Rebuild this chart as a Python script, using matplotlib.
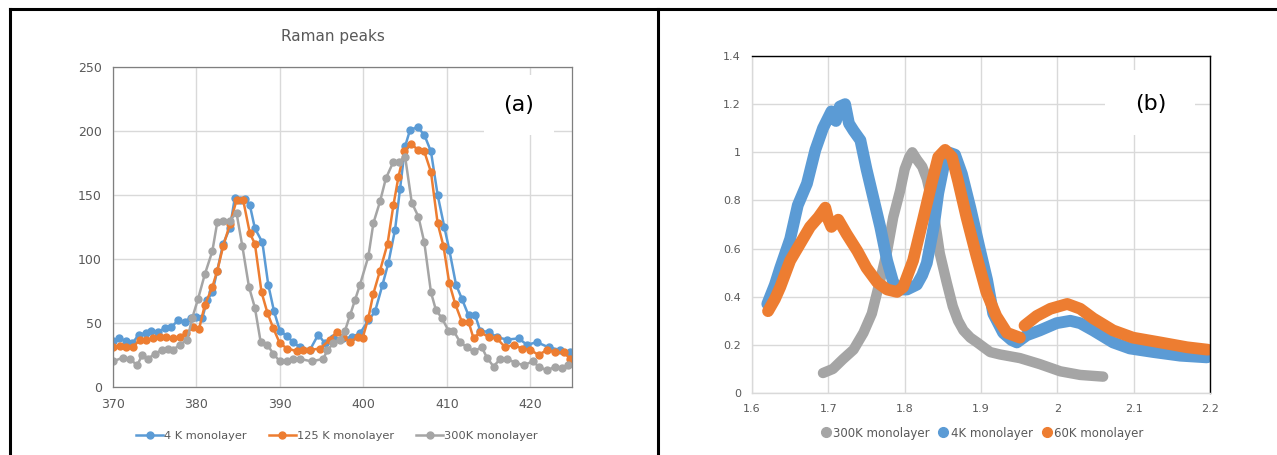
import numpy as np
import matplotlib
matplotlib.use("Agg")
import matplotlib.pyplot as plt
from matplotlib.lines import Line2D
from matplotlib.patches import Rectangle

# ---- panel (a): Raman peaks ----
x_4k = [370.0, 370.7, 371.5, 372.3, 373.1, 373.9, 374.6, 375.4, 376.2, 377.0, 377.8, 378.6, 379.3, 380.0,
        380.7, 381.3, 381.9, 382.5, 383.2, 384.0, 384.6, 385.2, 385.8, 386.4, 387.0, 387.9, 388.6, 389.3,
        390.0, 390.8, 391.6, 392.4, 393.6, 394.6, 395.4, 396.4, 397.6, 398.6, 399.6, 400.6, 401.4, 402.3,
        403.0, 403.8, 404.4, 405.0, 405.6, 406.5, 407.3, 408.1, 408.9, 409.7, 410.3, 411.1, 411.8, 412.6,
        413.4, 414.0, 415.0, 416.0, 417.2, 418.6, 419.6, 420.8, 422.2, 423.6, 424.8]
y_4k = [36, 38, 36, 34, 41, 42, 44, 43, 46, 47, 52, 51, 54, 55,
        54, 68, 74, 91, 112, 124, 148, 146, 147, 142, 124, 113, 80, 59,
        44, 40, 35, 31, 29, 41, 34, 38, 38, 39, 42, 52, 59, 80,
        97, 123, 155, 188, 201, 203, 197, 184, 150, 125, 107, 80, 69, 56,
        56, 44, 43, 39, 37, 38, 33, 35, 31, 29, 27]

x_125k = [370.0, 370.8, 371.6, 372.4, 373.2, 374.0, 374.8, 375.6, 376.4, 377.2, 378.0, 378.8, 379.6, 380.3,
          381.0, 381.9, 382.5, 383.2, 384.0, 384.8, 385.6, 386.4, 387.0, 387.8, 388.5, 389.2, 390.0, 390.9,
          392.0, 392.8, 393.6, 394.8, 396.0, 396.8, 397.6, 398.4, 399.3, 399.9, 400.6, 401.2, 402.0, 402.9,
          403.6, 404.2, 404.9, 405.7, 406.6, 407.3, 408.1, 408.9, 409.6, 410.3, 411.0, 411.8, 412.6, 413.2,
          414.0, 415.0, 416.0, 417.0, 418.0, 419.0, 420.0, 421.0, 422.0, 423.0, 424.0, 424.8]
y_125k = [31, 32, 31, 31, 37, 37, 38, 39, 39, 38, 39, 42, 47, 45,
          64, 78, 91, 110, 127, 146, 146, 120, 112, 74, 58, 46, 34, 30,
          28, 29, 29, 30, 37, 43, 39, 35, 39, 38, 54, 73, 91, 112,
          142, 164, 184, 190, 185, 184, 168, 128, 110, 81, 65, 51, 51, 38,
          43, 39, 38, 31, 33, 30, 29, 25, 29, 27, 27, 22]

x_300k = [370.0, 371.2, 372.0, 372.9, 373.5, 374.2, 375.0, 375.9, 376.6, 377.2, 378.0, 378.9, 379.5, 380.2,
          381.0, 381.9, 382.5, 383.2, 384.0, 384.8, 385.5, 386.3, 387.0, 387.7, 388.5, 389.2, 390.0, 390.8,
          391.6, 392.4, 393.8, 395.2, 395.7, 396.4, 397.2, 397.8, 398.4, 399.0, 399.6, 400.6, 401.2, 402.0,
          402.7, 403.6, 404.3, 405.0, 405.8, 406.6, 407.3, 408.1, 408.7, 409.4, 410.2, 410.8, 411.6, 412.4,
          413.2, 414.2, 414.8, 415.6, 416.4, 417.2, 418.2, 419.2, 420.3, 421.0, 422.0, 423.0, 423.8, 424.5]
y_300k = [20, 23, 22, 17, 25, 22, 26, 29, 30, 29, 33, 37, 54, 69,
          88, 106, 129, 130, 130, 136, 110, 78, 62, 35, 33, 26, 20, 20,
          22, 22, 20, 22, 29, 34, 37, 44, 56, 68, 80, 102, 128, 145,
          163, 176, 176, 180, 144, 133, 113, 74, 60, 54, 44, 44, 35, 31,
          28, 31, 23, 16, 22, 22, 19, 17, 20, 16, 13, 16, 15, 17]

# ---- panel (b): PL spectra ----
x_b300 = [1.693, 1.706, 1.719, 1.733, 1.746, 1.757, 1.768, 1.777, 1.785, 1.794, 1.800, 1.806, 1.810, 1.816,
          1.823, 1.829, 1.834, 1.838, 1.846, 1.855, 1.863, 1.870, 1.877, 1.886, 1.895, 1.912, 1.925, 1.951,
          1.977, 2.004, 2.030, 2.060]
y_b300 = [0.083, 0.10, 0.14, 0.18, 0.25, 0.33, 0.47, 0.59, 0.73, 0.84, 0.93, 0.98, 1.00, 0.97,
          0.94, 0.89, 0.82, 0.75, 0.58, 0.46, 0.36, 0.30, 0.26, 0.23, 0.21, 0.17, 0.16, 0.145,
          0.12, 0.09, 0.075, 0.068]

x_b4 = [1.620, 1.630, 1.637, 1.650, 1.660, 1.672, 1.683, 1.693, 1.704, 1.710, 1.715, 1.722, 1.727, 1.733,
        1.742, 1.750, 1.759, 1.768, 1.777, 1.785, 1.794, 1.803, 1.816, 1.823, 1.829, 1.838, 1.844, 1.851,
        1.857, 1.866, 1.875, 1.886, 1.899, 1.908, 1.916, 1.929, 1.940, 1.947, 1.960, 1.977, 1.999, 2.017,
        2.030, 2.047, 2.073, 2.095, 2.126, 2.161, 2.196]
y_b4 = [0.37, 0.45, 0.52, 0.64, 0.78, 0.87, 1.01, 1.10, 1.17, 1.13, 1.19, 1.20, 1.12, 1.09,
        1.05, 0.93, 0.81, 0.69, 0.55, 0.46, 0.43, 0.43, 0.45, 0.49, 0.54, 0.69, 0.83, 0.94,
        1.00, 0.99, 0.91, 0.77, 0.59, 0.47, 0.33, 0.25, 0.22, 0.21, 0.24, 0.26, 0.29, 0.30,
        0.29, 0.26, 0.21, 0.185, 0.17, 0.155, 0.148]

x_b60 = [1.621, 1.630, 1.637, 1.650, 1.663, 1.676, 1.687, 1.696, 1.700, 1.704, 1.713, 1.724, 1.738, 1.750,
         1.764, 1.777, 1.790, 1.798, 1.811, 1.824, 1.836, 1.844, 1.853, 1.862, 1.870, 1.881, 1.894, 1.907,
         1.920, 1.934, 1.951, np.nan, 1.957, 1.973, 1.991, 2.013, 2.030, 2.047, 2.073, 2.099, 2.135, 2.170,
         2.197]
y_b60 = [0.34, 0.39, 0.44, 0.55, 0.62, 0.69, 0.73, 0.77, 0.72, 0.69, 0.72, 0.66, 0.59, 0.52,
         0.46, 0.43, 0.42, 0.44, 0.55, 0.72, 0.88, 0.98, 1.01, 0.98, 0.88, 0.73, 0.57, 0.42,
         0.32, 0.25, 0.23, np.nan, 0.28, 0.32, 0.35, 0.37, 0.35, 0.31, 0.26, 0.23, 0.21, 0.19,
         0.18]

blue = "#5B9BD5"
orange = "#ED7D31"
gray = "#A5A5A5"
txt = "#595959"
grid_c = "#D9D9D9"

fig = plt.figure(figsize=(12.77, 4.55), dpi=100)
W, H = 1277, 455

# table borders
for xs, ys in [((10, 1277), (9, 9)), ((10, 10), (9, 455)), ((658, 658), (9, 455))]:
    fig.add_artist(Line2D([x / W for x in xs], [1 - y / H for y in ys], color="black", lw=2.2))

# ---------- left chart ----------
ax1 = fig.add_axes([113 / W, 1 - 387 / H, 459 / W, 320 / H])
ax1.plot(x_4k, y_4k, "-o", color=blue, lw=1.8, ms=5, label="4 K monolayer")
ax1.plot(x_125k, y_125k, "-o", color=orange, lw=1.8, ms=5, label="125 K monolayer")
ax1.plot(x_300k, y_300k, "-o", color=gray, lw=1.8, ms=5, label="300K monolayer")
ax1.set_xlim(370, 425)
ax1.set_ylim(0, 250)
ax1.set_xticks(range(370, 421, 10))
ax1.set_yticks(range(0, 251, 50))
ax1.grid(True, color=grid_c, lw=1)
ax1.set_axisbelow(True)
ax1.tick_params(length=0, labelsize=9, colors=txt, pad=8)
for s in ax1.spines.values():
    s.set_color("#7F7F7F")
    s.set_linewidth(0.9)
ax1.add_patch(Rectangle((414.4, 197), 8.4, 47, facecolor="white", edgecolor="none", zorder=1.5))
ax1.text(418.6, 220, "(a)", fontsize=16, ha="center", va="center", color="black", zorder=3)
fig.text(333 / W, 1 - 37 / H, "Raman peaks", fontsize=11, color=txt, ha="center", va="center")
fig.legend(*ax1.get_legend_handles_labels(), loc="center", bbox_to_anchor=(337 / W, 1 - 436 / H),
           ncol=3, frameon=False, fontsize=8.2, labelcolor=txt, handlelength=2.4,
           handletextpad=0.1, columnspacing=1.9)

# ---------- right chart ----------
ax2 = fig.add_axes([752 / W, 1 - 393 / H, 458 / W, 337 / H])
ax2.plot(x_b300, y_b300, color=gray, lw=7.5, solid_capstyle="round", solid_joinstyle="round")
ax2.plot(x_b4, y_b4, color=blue, lw=8.5, solid_capstyle="round", solid_joinstyle="round")
ax2.plot(x_b60, y_b60, color=orange, lw=8.5, solid_capstyle="round", solid_joinstyle="round")
ax2.set_xlim(1.6, 2.2)
ax2.set_ylim(0, 1.4)
ax2.set_xticks(np.round(np.arange(1.6, 2.21, 0.1), 1))
ax2.set_xticklabels(["1.6", "1.7", "1.8", "1.9", "2", "2.1", "2.2"])
ax2.set_yticks(np.round(np.arange(0, 1.41, 0.2), 1))
ax2.set_yticklabels(["0", "0.2", "0.4", "0.6", "0.8", "1", "1.2", "1.4"])
ax2.grid(True, color=grid_c, lw=1)
ax2.set_axisbelow(True)
ax2.tick_params(length=0, labelsize=8, colors=txt, pad=8)
ax2.spines["left"].set_color(grid_c)
ax2.spines["bottom"].set_color(grid_c)
ax2.spines["top"].set_color("black")
ax2.spines["right"].set_color("black")
for s in ax2.spines.values():
    s.set_linewidth(1)
ax2.add_patch(Rectangle((2.063, 1.07), 0.118, 0.27, facecolor="white", edgecolor="none", zorder=1.5))
ax2.text(2.122, 1.2, "(b)", fontsize=16, ha="center", va="center", color="black", zorder=3)

h2 = [Line2D([], [], ls="none", marker="o", ms=7, color=c) for c in (gray, blue, orange)]
fig.legend(h2, ["300K monolayer", "4K monolayer", "60K monolayer"], loc="center",
           bbox_to_anchor=(982 / W, 1 - 433 / H), ncol=3, frameon=False, fontsize=8.5,
           labelcolor=txt, handlelength=0.8, handletextpad=0.2, columnspacing=0.8)

fig.savefig("out.png", dpi=100)
